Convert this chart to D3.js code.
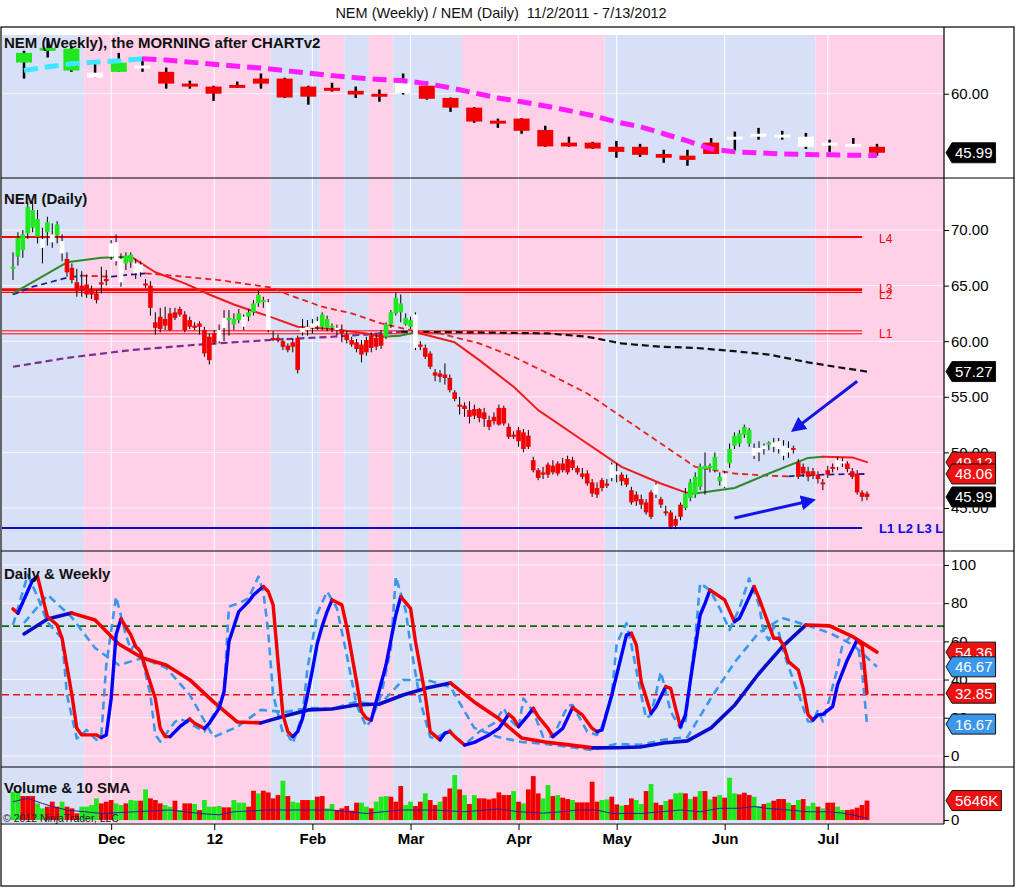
<!DOCTYPE html>
<html>
<head>
<meta charset="utf-8">
<script src="https://cdn.jsdelivr.net/npm/d3@7"></script>
<style>
  body { margin: 0; background: #fff; }
  svg { display: block; font-family: "Liberation Sans", Arial, sans-serif; }
</style>
</head>
<body>
<div id="chart"></div>
<script>
// ---------- data ----------
// daily bars, 11/2/2011 .. 7/13/2012 (175 trading days)
const dailyOpen = [
  66.5,67.6,68.2,69.7,70.2,69.4,68.4,69.8,68.9,69.5, 67.9,67.4,66.6,65.3,65.0,65.1,64.6,64.3,65.3,65.6,
  67.6,67.2,65.3,67.0,67.1,66.1,66.2,65.2,65.0,61.7, 62.2,62.0,62.5,62.6,62.9,62.4,61.9,61.4,61.6,61.0,
  60.4,60.7,60.0,61.2,61.9,61.5,61.9,61.3,62.2,62.6, 63.4,63.6,63.5,60.3,60.3,60.0,59.6,59.9,60.3,60.8,
  61.0,61.2,61.4,61.3,61.2,61.3,61.0,61.0,60.6,60.1, 59.9,59.7,60.1,60.5,60.3,60.6,60.4,61.5,62.5,62.6,
  61.5,61.3,62.4,59.7,59.4,58.9,57.2,57.1,57.0,56.7, 55.4,54.3,54.2,53.8,53.9,53.9,53.6,52.9,53.2,54.0,
  54.0,52.3,51.6,52.0,51.8,51.5,49.3,48.4,48.2,48.9, 48.8,49.0,49.0,49.4,49.3,48.6,48.1,48.1,47.3,46.8,
  47.5,47.2,47.7,48.0,48.0,47.7,46.6,46.2,45.8,45.5, 46.4,46.2,45.8,44.7,44.6,44.0,45.3,45.0,45.9,46.2,
  46.9,48.5,48.6,48.4,47.4,46.9,49.0,50.6,50.8,51.6, 50.8,49.7,50.0,50.3,50.7,50.5,50.3,49.7,50.0,50.4,
  49.1,48.7,48.3,48.3,48.0,47.3,48.4,48.7,48.7,49.0, 49.0,48.3,48.1,46.4,46.3
];
const dailyHigh = [
  68.0,69.8,70.0,72.5,72.6,71.8,70.2,71.2,70.6,70.8, 69.6,68.0,67.0,66.5,66.3,66.0,65.0,64.6,66.7,66.4,
  69.1,69.6,67.9,68.0,68.0,67.4,67.2,65.6,65.4,62.6, 63.0,63.1,63.0,63.0,63.1,62.7,62.2,61.7,61.8,61.3,
  60.7,61.0,61.5,62.8,62.8,62.5,62.9,62.4,62.9,63.7, 64.6,64.0,63.8,60.9,60.6,60.3,59.8,60.2,60.5,62.0,
  61.9,62.0,62.2,62.6,62.3,61.6,61.5,61.5,60.9,60.4, 60.2,60.1,60.4,60.8,60.6,61.0,61.7,62.8,64.4,64.2,
  62.5,62.2,62.6,60.0,59.7,59.1,57.5,57.4,58.0,57.0, 55.6,55.0,54.5,54.6,54.3,54.0,54.0,53.3,53.6,54.3,
  54.2,52.6,51.9,52.3,52.1,52.0,49.6,48.6,48.7,49.1, 49.3,49.2,49.5,49.7,49.6,48.8,48.6,48.4,47.6,47.3,
  47.7,47.6,49.1,49.0,48.2,48.0,46.9,46.5,46.2,45.8, 46.6,47.3,46.0,45.2,44.8,44.3,45.5,46.8,47.6,48.2,
  49.0,50.0,49.0,50.0,48.2,48.3,50.8,51.8,52.0,52.5, 52.2,50.8,51.0,50.8,51.0,51.3,51.3,51.1,51.0,50.6,
  49.4,49.0,48.7,48.6,48.3,47.6,48.8,49.0,49.6,49.5, 49.2,48.6,48.4,46.6,46.5
];
const dailyLow = [
  65.5,66.8,67.5,69.2,69.8,68.8,67.0,68.6,68.4,68.8, 67.2,65.8,65.2,64.0,64.0,63.9,63.8,63.4,64.3,65.0,
  67.3,66.8,64.9,66.4,66.6,65.6,65.8,64.8,62.3,60.6, 60.8,61.0,60.9,61.9,62.2,60.8,61.1,61.0,60.6,58.6,
  57.9,59.7,59.8,60.0,60.5,61.0,61.6,61.0,61.8,62.3, 63.1,63.0,60.8,60.0,59.9,59.2,59.0,59.0,57.1,60.5,
  60.5,60.7,61.0,61.0,60.9,60.8,60.5,59.9,59.8,59.5, 59.0,58.1,58.7,59.0,59.2,59.3,60.2,61.2,62.3,61.7,
  61.4,61.1,59.2,59.2,58.4,57.5,56.4,56.3,56.1,55.4, 54.6,53.4,53.2,52.6,53.0,52.7,52.3,52.0,52.5,52.4,
  52.4,51.2,51.2,50.5,50.0,50.3,48.2,47.5,47.6,47.7, 48.0,47.9,48.2,48.0,48.4,48.0,47.6,47.0,46.0,45.9,
  46.5,46.8,47.4,47.3,47.0,46.9,45.3,45.2,44.9,44.4, 44.0,45.9,45.0,44.3,43.1,43.1,43.9,44.8,45.6,45.9,
  46.6,46.2,48.2,48.2,47.0,46.8,48.6,50.3,50.5,51.3, 50.5,49.4,49.2,49.8,50.2,50.0,49.9,49.3,49.5,49.9,
  47.6,47.8,47.4,47.6,47.2,46.6,47.7,48.2,48.4,48.7, 48.2,47.6,46.2,45.6,45.7
];
const dailyClose = [
  66.7,69.3,69.6,72.1,71.8,71.0,69.2,70.7,69.6,70.5, 69.0,66.2,65.5,64.5,64.6,64.2,64.2,63.7,65.1,65.4,
  68.8,68.9,67.4,67.7,67.8,67.0,66.9,65.0,63.0,61.2, 61.1,61.4,61.0,62.1,62.4,61.0,61.3,61.2,61.3,58.9,
  58.3,59.9,61.0,62.1,62.1,62.0,62.5,62.2,62.6,63.4, 64.2,63.7,61.0,60.1,60.2,59.5,59.2,59.5,57.4,61.2,
  61.3,61.6,61.8,62.4,62.0,61.4,61.2,60.7,60.1,59.7, 59.3,58.8,59.0,59.4,59.5,59.6,61.5,62.6,63.9,63.4,
  62.1,61.9,59.4,59.5,58.6,57.7,56.9,56.8,56.7,55.6, 54.8,54.1,53.9,53.2,53.3,53.1,53.0,52.3,52.8,52.5,
  52.6,51.4,51.4,51.0,50.3,50.5,48.4,47.7,48.0,48.0, 48.2,48.1,48.4,48.2,48.6,48.2,47.8,47.2,46.3,46.2,
  46.8,47.0,48.9,48.3,47.4,47.1,45.5,45.6,45.3,44.6, 44.2,47.1,45.3,44.6,43.3,43.4,44.2,46.3,47.3,47.8,
  48.7,48.8,48.8,49.6,47.8,48.1,50.3,51.5,51.7,52.3, 52.0,50.4,50.4,50.6,50.9,50.9,51.0,50.6,50.4,50.3,
  47.8,48.1,47.8,47.9,47.6,47.2,48.0,48.6,49.3,49.2, 48.5,47.8,46.4,46.0,45.99
];
// bar colouring used by the chart: g = green, r = red, w = white
const dailyColor =
  "ggggggwgwg" + "wrrrrrrrrr" + "wwwggwwrrr" + "rrrrrrrrrr" + "rrwwgggwgg" + "ggwrrrrrrw" +
  "wwwgggwrrr" + "rrrrrrgggg" + "ggwrrrrrrr" + "rrrrrrrrrr" + "rrrrrrrrrr" + "rrrrrrrrrr" +
  "rrwwrrrrrr" + "rwrrrrrggg" + "gggggwgggg" + "gwwwgwwwwr" + "rrrrrrrrww" + "rrrrr";

// daily moving averages, [bar index, value]
const fastMA = [[0,64.3],[11,67.1],[18,67.5],[24,67.6],[29,66.2],[35,65.2],[40,64.2],[45,63.3],[49,62.7],
  [53,62.1],[58,61.3],[65,61.1],[72,60.7],[75,60.4],[79,60.5],[82,60.8],[90,59.9],[95,58.3],[102,55.9],
  [107,53.8],[114,51.7],[124,48.7],[132,47.2],[137,46.4],[139,46.3],[147,46.8],[154,48.1],[162,49.5],
  [165,49.6],[171,49.55],[174,49.12]];
const midMA = [[0,64.2],[4,64.9],[11,65.7],[14,65.9],[20,65.8],[24,66.0],[27,66.1],[30,66.0],[42,65.5],
  [53,64.8],[56,64.2],[63,63.1],[69,62.5],[75,61.6],[83,60.8],[87,60.7],[95,59.8],[102,58.6],[109,57.1],
  [117,55.3],[124,53.2],[132,50.8],[139,48.7],[147,48.1],[154,47.9],[158,47.85],[162,47.95],[168,48.03],[174,48.06]];
const slowMA = [[0,57.7],[11,58.5],[24,59.2],[38,59.7],[52,60.1],[65,60.4],[72,60.6],[79,60.85],[93,60.8],
  [109,60.7],[117,60.4],[124,59.8],[132,59.5],[139,59.4],[147,59.1],[154,58.8],[162,58.1],[169,57.6],[174,57.27]];

// horizontal levels on the daily panel
const levelNames = ["L4", "L3", "L2", "L1"];
const levelValues = [69.37, 64.62, 64.38, 60.8];
const supportValue = 43.2;
const supportLabel = "L1 L2 L3 L4";
// blue annotation arrows, [bar index, price]
const arrowFrom = [[172, 56.4], [147, 44.1]];
const arrowTo = [[159, 52.0], [163, 45.7]];

// weekly bars (37 weeks)
const weeklyOpen = [67.4,70.2,65.5,63.8,65.2,66.4,65.2,62.4,61.7,62.1,63.6,63.6,61.7,61.4,60.7,60.0,60.2,61.9,
  59.0,56.7,53.6,54.1,51.4,48.4,48.4,47.4,47.4,45.7,45.3,48.4,49.3,50.0,49.8,47.4,47.9,47.6,47.4];
const weeklyHigh = [70.2,73.1,71.2,67.4,69.7,68.6,66.2,63.1,61.9,62.9,64.8,63.8,61.9,62.6,61.7,61.0,64.8,62.9,
  59.1,56.8,54.1,54.2,52.4,49.8,48.6,48.8,48.1,46.7,46.7,49.5,51.0,51.9,51.2,50.7,49.1,49.5,48.1];
const weeklyLow = [63.6,68.6,65.2,63.8,65.2,65.2,61.2,61.2,58.3,61.4,61.2,59.0,57.4,60.5,59.0,58.1,59.8,58.6,
  55.7,53.1,51.9,50.5,47.4,47.4,46.9,44.8,45.0,43.6,42.9,45.7,46.5,49.1,49.1,46.9,46.2,47.6,45.3];
const weeklyClose = [69.7,70.9,70.7,65.0,67.4,66.7,62.4,61.9,60.0,61.5,62.4,59.1,59.3,61.0,59.8,59.4,62.6,58.8,
  56.7,53.4,52.9,51.2,47.5,47.5,47.0,46.2,45.5,44.8,44.3,45.7,49.8,50.5,50.3,49.8,48.4,48.1,45.99];
const weeklyColor = "gggwgw" + "rrrrrrrrrr" + "w" + "rrrrrrrrrrrrr" + "wwwwww" + "r";
const weeklyMA = [65.5,66.4,67.1,67.5,67.8,68.3,68.0,67.5,67.0,66.5,66.1,65.5,64.9,64.3,63.8,63.4,63.1,62.4,
  61.4,60.2,59.0,58.1,57.1,56.0,54.8,53.3,52.2,50.5,48.8,46.9,46.2,46.0,45.7,45.6,45.5,45.4,45.35];

// oscillators
const weeklyOscSolid = [63.9,71.7,74.9,71.2,58.6,51.3,47.6,39.8,28.3,17.8,17.3,20.9,24.1,24.6,26.7,27.2,31.9,35.6,
  38.2,28.3,19.9,9.4,7.3,5.8,4.2,4.3,4.7,6.8,7.9,14.7,26.7,42.9,57.1,68.6,68.1,62.3,54.36];
const weeklyOscDashed = [69.6,84.3,72.8,56.5,47.6,51.3,46.1,31.9,9.9,15.2,24.1,23.0,25.1,24.6,28.3,26.7,39.8,39.8,
  36.1,14.7,9.9,7.3,6.3,4.7,3.1,6.3,5.8,8.4,9.9,30.4,49.2,64.4,72.3,68.6,64.4,58.1,46.67];
const dailyOscSolid = [[0,77.0],[1,74.7],[4,92.1],[5,93.9],[7,73.0],[9,68.6],[10,61.6],[12,31.9],[13,14.5],
  [14,11.0],[17,11.0],[18,9.6],[19,11.0],[20,30.1],[21,63.4],[22,71.7],[24,63.4],[25,57.3],[26,54.6],[27,45.9],
  [29,30.1],[30,14.4],[31,10.1],[32,10.1],[34,15.3],[36,19.3],[37,17.1],[39,14.4],[40,17.1],[42,24.9],[43,33.7],
  [44,59.9],[46,75.6],[48,80.8],[49,84.3],[51,88.7],[52,86.1],[53,79.1],[54,49.4],[55,21.5],[56,12.7],[57,10.1],
  [58,12.7],[59,19.7],[60,32.0],[61,45.0],[62,59.0],[63,68.0],[64,75.6],[65,81.7],[67,79.1],[68,67.7],[70,38.9],
  [71,23.2],[72,19.7],[73,18.8],[74,28.4],[76,47.6],[78,73.8],[79,83.4],[81,77.3],[82,59.9],[84,31.9],[85,12.7],
  [87,8.4],[88,11.9],[89,12.7],[90,10.1],[92,5.7],[94,7.1],[97,11.0],[99,14.4],[101,21.8],[102,19.7],[103,15.3],
  [105,21.5],[106,24.9],[107,20.6],[109,14.4],[110,10.1],[112,14.4],[114,25.3],[116,21.5],[118,14.4],[119,12.7],
  [120,13.6],[122,31.9],[124,52.9],[125,63.4],[126,64.2],[127,58.1],[128,38.9],[130,22.3],[131,25.8],[133,36.3],
  [134,35.4],[135,24.9],[136,15.3],[137,21.5],[138,39.3],[140,73.8],[141,79.9],[142,86.9],[145,81.7],[147,70.3],
  [148,72.1],[151,88.7],[152,82.6],[154,68.6],[155,61.6],[156,61.6],[157,58.1],[158,49.4],[160,45.0],[161,35.4],
  [162,21.5],[163,18.8],[164,21.5],[165,21.8],[167,25.8],[168,37.2],[170,50.3],[172,60.8],[173,58.1],[174,32.85]];
const dailyOscDashed = [[0,68.6],[3,94.8],[5,83.4],[7,70.0],[10,61.6],[11,31.9],[13,9.2],[14,11.0],[15,13.6],
  [17,8.4],[18,11.0],[19,47.6],[21,83.4],[23,63.4],[24,55.5],[25,59.0],[26,54.6],[28,31.9],[29,11.0],[30,7.5],
  [32,14.4],[33,17.8],[34,19.5],[36,17.0],[39,12.7],[41,22.3],[43,33.5],[44,78.2],[46,79.9],[48,82.6],[50,93.9],
  [51,86.1],[52,65.1],[53,31.9],[55,11.9],[56,11.0],[57,6.6],[59,21.5],[60,45.9],[62,74.7],[64,86.1],[66,77.3],
  [68,52.9],[70,26.7],[72,15.3],[73,18.8],[75,31.9],[77,56.4],[78,93.9],[80,76.4],[81,58.1],[83,28.4],[85,9.9],
  [86,9.2],[89,13.6],[90,10.1],[92,5.7],[95,12.7],[98,17.1],[100,25.0],[101,19.7],[103,14.4],[104,30.1],[106,23.2],
  [108,10.1],[110,10.1],[113,26.0],[114,26.7],[117,12.7],[119,11.0],[120,15.3],[122,31.9],[123,59.0],[125,69.5],
  [126,58.1],[128,31.9],[129,19.7],[130,21.5],[132,44.0],[134,23.2],[136,14.4],[137,17.8],[139,61.6],[140,90.4],
  [142,86.9],[144,77.3],[146,66.0],[148,77.3],[150,93.0],[152,79.1],[153,64.2],[154,60.7],[155,67.7],[156,65.1],
  [157,54.6],[158,46.8],[160,32.8],[162,18.0],[163,18.0],[164,24.1],[165,18.0],[166,26.7],[168,45.9],[169,58.1],
  [171,63.4],[172,59.9],[173,44.2],[174,16.67]];
const oscUpper = 68;
const oscLower = 32;

// volume in thousands, and bar colour (g / r)
const volume = [
  8220,8220,6960,6960,6960,4830,3380,3870,5320,3870, 5320,3870,3380,1930,3870,3870,4350,6280,4830,5320,
  5800,4830,4350,4830,5800,5610,5610,8890,6280,5800, 4830,4350,3870,5610,2900,4830,4830,4640,2900,5800,
  3870,3870,4060,3670,3670,5800,5030,5030,3870,8510, 7730,8510,8020,6280,7250,11410,6960,5320,5030,5800,
  5800,5800,6770,6960,3380,4640,2900,3380,4060,2710, 5030,5030,3870,3380,5320,6770,6960,6770,5320,9860,
  4350,5320,4060,5320,7730,5800,4350,5320,6770,9180, 13050,8890,7250,4640,7250,6280,6280,5990,6280,
  8020,7250,7250,8410,5320,4830,8890,12760,7730,6280, 10150,6960,7250,6480,6090,5800,5120,5120,5120,11120,
  5320,5800,5990,6770,4540,4160,4350,6280,5800,4640, 8410,10440,5030,4350,5510,5990,7730,7930,7730,6090,
  6770,8410,8410,5990,6770,7250,6480,12280,7730,7440, 7930,7250,6770,4060,4640,5030,5610,6090,6090,5030,
  4350,5800,6090,4060,5030,3870,3380,5030,5030,3870, 2900,2900,3090,3580,4350,5646
];
const volumeColor =
  "ggrrrggrrr" + "grrrggggrr" + "rggrggrgrr" + "rggrgrrgrg" + "gggrrgggrr" + "grrrrgrggr" +
  "rgrrggrrrr" + "rggrgggrrr" + "ggrrgrrgrr" + "grgrgrrrr" +
  "rrrgrgrrrg" + "grgrrgrrrr" + "rggrrgrrgg" + "rgrrgrggrg" + "rgrgrgrggr" + "rrggrgrrrg" +
  "rgrggrgrrg" + "grrrrr";
const volumeSMA = [[0,5300],[3,6300],[6,4800],[8,3900],[11,2900],[18,1900],[25,2400],[32,2900],[38,1900],
  [42,1500],[45,2400],[52,2900],[59,2900],[65,2900],[72,1900],[79,2900],[86,2900],[92,2400],[99,3200],
  [103,2400],[108,2000],[112,2400],[115,2900],[119,2900],[122,1900],[128,1900],[132,2400],[136,2900],
  [140,2400],[144,3400],[148,3400],[151,3900],[154,3300],[158,2900],[162,2400],[166,2400],[169,2000],
  [171,1500],[174,500]];

// x axis: first trading day of each month
const monthIdx = [20, 41, 61, 81, 103, 123, 145, 166];
const monthLabels = ["Dec", "12", "Feb", "Mar", "Apr", "May", "Jun", "Jul"];
// weekly-trend background bands, edges in bar index (starts blue)
const bandEdges = [14.5, 52.5, 62.5, 67.5, 72.5, 77.5, 91.5, 120.5, 163.5];

// ---------- layout ----------
const W = 1016, H = 888;
const plotL = 2, plotR = 944;
const panel = {
  weekly: [35, 178],
  daily: [179, 551],
  osc: [552, 767],
  vol: [768, 823]
};
const BLUE_BG = "#d7e0f6", PINK_BG = "#ffd1e8";
const GREEN = "#1fe81f", RED = "#f20000";

const x = d3.scaleLinear().domain([0, 174]).range([13, 867]);
const xw = d3.scaleLinear().domain([0, 36]).range([24, 877]);
const yW = d3.scaleLinear().domain([40, 75.6]).range([178, 28]);
const yD = d3.scaleLinear().domain([41.13, 74.59]).range([551, 179]);
const yO = d3.scaleLinear().domain([-5.8, 106.8]).range([767, 552]);
const yV = d3.scaleLinear().domain([0, 15400]).range([820, 767]);

const svg = d3.select("#chart").append("svg").attr("width", W).attr("height", H);
const defs = svg.append("defs");

function clipFor(id, p) {
  defs.append("clipPath").attr("id", id)
    .append("rect").attr("x", plotL).attr("y", p[0]).attr("width", plotR - plotL).attr("height", p[1] - p[0]);
  return svg.append("g").attr("clip-path", `url(#${id})`);
}

// draws a line that changes colour with its slope
function slopeLine(g, pts, xs, ys, up, down, width, dash) {
  const line = d3.line().x(d => xs(d[0])).y(d => ys(d[1]));
  const draw = (run, col) => g.append("path").attr("d", line(run))
    .style("fill", "none").style("stroke", col).style("stroke-width", width)
    .style("stroke-dasharray", dash || null)
    .style("stroke-linejoin", "round").style("stroke-linecap", dash ? "butt" : "round");
  let run = [pts[0]], col = null;
  for (let k = 1; k < pts.length; k++) {
    const c = pts[k][1] > pts[k - 1][1] ? up : down;
    if (col && c !== col) { draw(run, col); run = [pts[k - 1]]; }
    col = c;
    run.push(pts[k]);
  }
  draw(run, col);
}

function barColor(c) { return c === "g" ? GREEN : c === "r" ? RED : "#ffffff"; }

function drawBackground() {
  svg.append("text").attr("x", 501).attr("y", 18).attr("text-anchor", "middle")
    .style("font-size", "14.5px").style("fill", "#111").style("white-space", "pre")
    .text("NEM (Weekly) / NEM (Daily)  11/2/2011 - 7/13/2012");

  const edges = [plotL].concat(bandEdges.map(x)).concat([plotR]);
  const bg = svg.append("g");
  for (let k = 0; k < edges.length - 1; k++) {
    bg.append("rect").attr("x", edges[k]).attr("y", panel.weekly[0])
      .attr("width", edges[k + 1] - edges[k]).attr("height", panel.vol[1] - panel.weekly[0])
      .style("fill", k % 2 === 0 ? BLUE_BG : PINK_BG);
  }
  // white grid
  monthIdx.forEach(i => bg.append("line").attr("x1", x(i)).attr("x2", x(i))
    .attr("y1", panel.weekly[0]).attr("y2", panel.vol[1]).style("stroke", "#fff").style("stroke-width", 1));
  const hgrid = (vals, ys) => vals.forEach(v => bg.append("line").attr("x1", plotL).attr("x2", plotR)
    .attr("y1", ys(v)).attr("y2", ys(v)).style("stroke", "#fff").style("stroke-width", 1).style("opacity", 0.8));
  hgrid([60], yW);
  hgrid([45, 50, 55, 60, 65, 70], yD);
  hgrid([0, 20, 40, 60, 80, 100], yO);
}

function drawWeekly() {
  const g = clipFor("clipW", panel.weekly);
  weeklyOpen.forEach((o, i) => {
    const c = weeklyClose[i];
    g.append("line").attr("x1", xw(i)).attr("x2", xw(i))
      .attr("y1", yW(weeklyHigh[i])).attr("y2", yW(weeklyLow[i]))
      .style("stroke", "#000").style("stroke-width", 2.5);
    const top = yW(Math.max(o, c)), bot = yW(Math.min(o, c));
    g.append("rect").attr("x", xw(i) - 8).attr("y", top).attr("width", 16)
      .attr("height", Math.max(3, bot - top)).style("fill", barColor(weeklyColor[i]));
  });
  slopeLine(g, weeklyMA.map((v, i) => [i, v]), xw, yW, "#3fe6ff", "#ff1cff", 5, "14,7");

  svg.append("text").attr("x", 4).attr("y", 48).style("font-size", "15px").style("font-weight", "bold")
    .style("fill", "#111").text("NEM (Weekly), the MORNING after CHARTv2");
}

function drawDaily() {
  const g = clipFor("clipD", panel.daily);
  const n = dailyClose.length;

  // level lines
  const lvlWidth = { L4: 2, L3: 3, L2: 1, L1: 1 };
  levelValues.forEach((v, k) => {
    const name = levelNames[k];
    const offs = name === "L1" ? [-1.5, 1.5] : [0];
    offs.forEach(o => g.append("line").attr("x1", plotL).attr("x2", x(n - 2))
      .attr("y1", yD(v) + o).attr("y2", yD(v) + o)
      .style("stroke", "#f00").style("stroke-width", lvlWidth[name]));
    g.append("text").attr("x", x(n - 1) + 12).attr("y", yD(v) + (name === "L3" ? 3 : 6))
      .style("font-size", "12px").style("fill", "#f00").text(name);
  });
  g.append("line").attr("x1", plotL).attr("x2", x(n - 2)).attr("y1", yD(supportValue)).attr("y2", yD(supportValue))
    .style("stroke", "#0a0ac8").style("stroke-width", 2);
  g.append("text").attr("x", x(n - 1) + 12).attr("y", yD(supportValue) + 5)
    .style("font-size", "13px").style("font-weight", "bold").style("fill", "#0a0ae0").text(supportLabel);

  // moving averages
  slopeLine(g, slowMA, x, yD, "#7a2e8e", "#111111", 2.2, "7,4");
  slopeLine(g, midMA, x, yD, "#1c1c90", "#e82020", 1.8, "6,4");
  slopeLine(g, fastMA, x, yD, "#2c8a2c", "#ee1c1c", 2);

  // candles
  dailyClose.forEach((c, i) => {
    const o = dailyOpen[i];
    g.append("line").attr("x1", x(i)).attr("x2", x(i))
      .attr("y1", yD(dailyHigh[i])).attr("y2", yD(dailyLow[i]))
      .style("stroke", "#000").style("stroke-width", 1);
    const top = yD(Math.max(o, c)), bot = yD(Math.min(o, c));
    g.append("rect").attr("x", x(i) - 2.3).attr("y", top).attr("width", 4.6)
      .attr("height", Math.max(2, bot - top)).style("fill", barColor(dailyColor[i]));
  });

  // annotation arrows
  defs.append("marker").attr("id", "head").attr("viewBox", "0 0 10 10").attr("refX", 8).attr("refY", 5)
    .attr("markerWidth", 5).attr("markerHeight", 5).attr("orient", "auto")
    .append("path").attr("d", "M0,0 L10,5 L0,10 z").style("fill", "#1414e6");
  arrowFrom.forEach((a, k) => {
    const b = arrowTo[k];
    g.append("line").attr("x1", x(a[0])).attr("y1", yD(a[1])).attr("x2", x(b[0])).attr("y2", yD(b[1]))
      .style("stroke", "#1414e6").style("stroke-width", 3).attr("marker-end", "url(#head)");
  });

  svg.append("text").attr("x", 4).attr("y", 204).style("font-size", "15px").style("font-weight", "bold")
    .style("fill", "#111").text("NEM (Daily)");
}

function drawOsc() {
  const g = clipFor("clipO", panel.osc);
  [[oscUpper, "#0b6e0b"], [oscLower, "#ee1111"]].forEach(([v, col]) =>
    g.append("line").attr("x1", plotL).attr("x2", plotR).attr("y1", yO(v)).attr("y2", yO(v))
      .style("stroke", col).style("stroke-width", 1.6).style("stroke-dasharray", "7,4"));

  const light = "#3b97ec";
  slopeLine(g, weeklyOscDashed.map((v, i) => [i, v]), xw, yO, light, light, 2.6, "8,5");
  slopeLine(g, dailyOscDashed, x, yO, light, light, 2.6, "8,5");
  slopeLine(g, weeklyOscSolid.map((v, i) => [i, v]), xw, yO, "#0a0acc", "#f20000", 3.6);
  slopeLine(g, dailyOscSolid, x, yO, "#0000ff", "#f20000", 3.4);

  svg.append("text").attr("x", 4).attr("y", 579).style("font-size", "15px").style("font-weight", "bold")
    .style("fill", "#111").text("Daily & Weekly");
}

function drawVolume() {
  const g = clipFor("clipV", panel.vol);
  volume.forEach((v, i) => {
    g.append("rect").attr("x", x(i) - 2.4).attr("y", yV(v)).attr("width", 4.8)
      .attr("height", yV(0) - yV(v)).style("fill", volumeColor[i] === "g" ? GREEN : RED);
  });
  g.append("path").attr("d", d3.line().x(d => x(d[0])).y(d => yV(d[1]))(volumeSMA))
    .style("fill", "none").style("stroke", "#2020a0").style("stroke-width", 1);

  svg.append("text").attr("x", 4).attr("y", 793).style("font-size", "15px").style("font-weight", "bold")
    .style("fill", "#111").text("Volume & 10 SMA");
  svg.append("text").attr("x", 3).attr("y", 822).style("font-size", "10.5px").style("fill", "#222")
    .text("\u00a9 2012 NinjaTrader, LLC");
}

function drawFrame() {
  const f = svg.append("g").style("stroke", "#000").style("stroke-width", 1.2);
  f.append("rect").attr("x", 1).attr("y", 27).attr("width", 1013).attr("height", 859).style("fill", "none");
  [178, 551, 767].forEach(y => f.append("line").attr("x1", 1).attr("x2", 1014).attr("y1", y).attr("y2", y));
  f.append("line").attr("x1", 1).attr("x2", plotR).attr("y1", 824).attr("y2", 824);
  f.append("line").attr("x1", plotR).attr("x2", plotR).attr("y1", 27).attr("y2", 824);
}

function styleAxis(g, size, weight) {
  g.select(".domain").remove();
  g.selectAll(".tick line").style("stroke", "#000");
  g.selectAll(".tick text").style("font-size", size).style("font-weight", weight || "normal")
    .style("fill", "#000").style("font-family", '"Liberation Sans", Arial, sans-serif');
}

function drawAxes() {
  const f2 = d3.format(".2f");
  const right = (ys, vals, fmt) => {
    const g = svg.append("g").attr("transform", `translate(${plotR},0)`)
      .call(d3.axisRight(ys).tickValues(vals).tickFormat(fmt).tickSize(5).tickPadding(2));
    styleAxis(g, "15px");
  };
  right(yW, [60], f2);
  right(yD, [45, 50, 55, 60, 65, 70], f2);
  right(yO, [0, 20, 40, 60, 80, 100], d3.format("d"));
  right(yV, [0], d3.format("d"));

  const gx = svg.append("g").attr("transform", "translate(0,824)")
    .call(d3.axisBottom(x).tickValues(monthIdx).tickFormat((d, i) => monthLabels[i]).tickSize(6).tickPadding(3));
  styleAxis(gx, "15px", "bold");
}

// value flags on the right axis
function tag(y, label, fill) {
  const g = svg.append("g");
  const poly = g.append("polygon").style("fill", fill).style("stroke", "#111").style("stroke-width", 1);
  const t = g.append("text").attr("x", plotR + 11).attr("y", y + 5.5)
    .style("font-size", "15px").style("fill", "#fff").text(label);
  const w = t.node().getComputedTextLength() + 6;
  const l = plotR + 2, s = plotR + 8, r = s + w;
  poly.attr("points", [[l, y], [s, y - 10], [r, y - 10], [r, y + 10], [s, y + 10]].map(p => p.join(",")).join(" "));
}

function drawTags() {
  const f2 = d3.format(".2f");
  const last = a => a[a.length - 1];
  tag(yW(last(weeklyClose)), f2(last(weeklyClose)), "#000");
  tag(yD(last(slowMA)[1]), f2(last(slowMA)[1]), "#000");
  tag(yD(last(fastMA)[1]), f2(last(fastMA)[1]), "#ee1111");
  tag(yD(last(midMA)[1]), f2(last(midMA)[1]), "#ee1111");
  tag(yD(last(dailyClose)), f2(last(dailyClose)), "#000");
  tag(yO(last(weeklyOscSolid)), f2(last(weeklyOscSolid)), "#ee1111");
  tag(yO(last(weeklyOscDashed)), f2(last(weeklyOscDashed)), "#3b97ec");
  tag(yO(last(dailyOscSolid)[1]), f2(last(dailyOscSolid)[1]), "#ee1111");
  tag(yO(last(dailyOscDashed)[1]), f2(last(dailyOscDashed)[1]), "#3b97ec");
  tag(yV(last(volume)), last(volume) + "K", "#ee1111");
}

drawBackground();
drawWeekly();
drawDaily();
drawOsc();
drawVolume();
drawFrame();
drawAxes();
drawTags();
</script>
</body>
</html>
